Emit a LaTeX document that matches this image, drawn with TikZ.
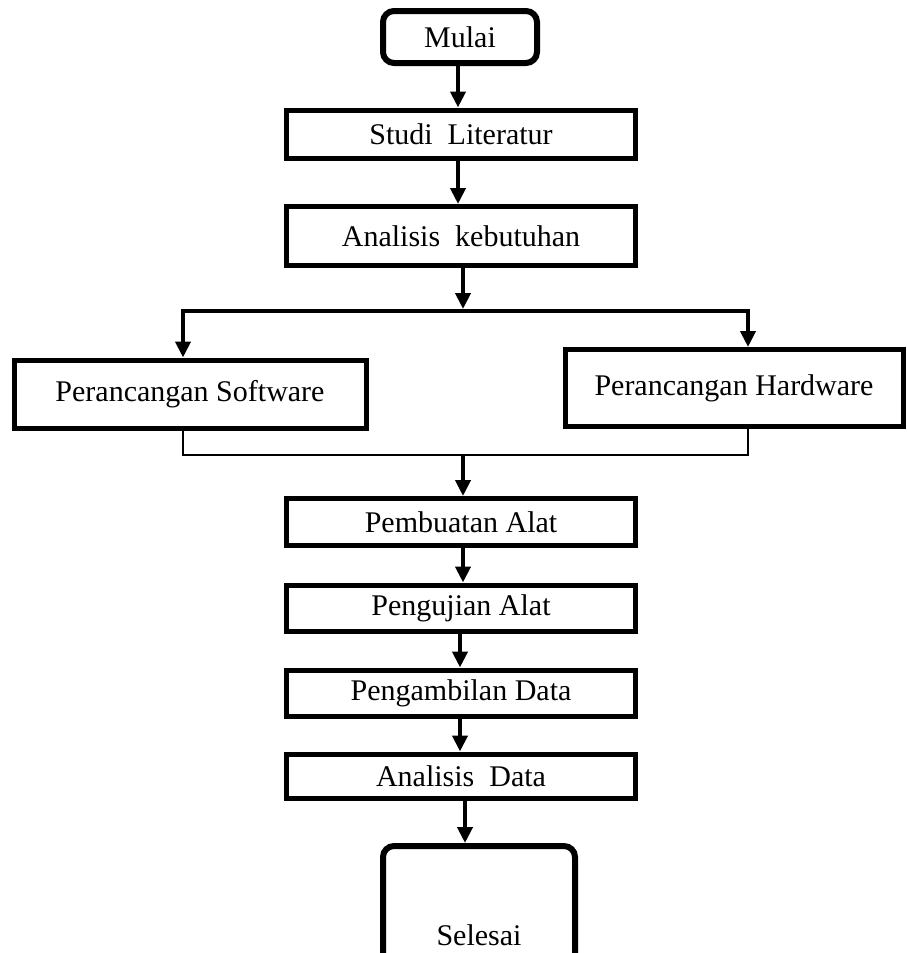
\documentclass[tikz,border=0pt]{standalone}
\usepackage{fontspec}
\setmainfont{Liberation Serif}
\usetikzlibrary{arrows.meta,calc}
\begin{document}
\begin{tikzpicture}[x=1pt,y=-1pt,
  box/.style={draw,line width=5pt,minimum width=349pt,inner sep=0pt,font=\fontsize{30}{33}\selectfont},
  term/.style={draw,line width=6pt,rounded corners=11pt,inner sep=0pt,font=\fontsize{30}{33}\selectfont},
  arr/.style={line width=4pt,-{Triangle[length=16pt,width=15pt]}},
  thin/.style={line width=1.3pt}]
\useasboundingbox (0,0) rectangle (907,953);
\clip (0,0) rectangle (907,953);
\node[term,minimum width=154pt,minimum height=52pt] (mulai) at (460,37) {Mulai};
\node[box,minimum height=48pt] (studi) at (461,134) {Studi\ \ Literatur};
\node[box,minimum height=59pt] (anal) at (461,236) {Analisis\ \ kebutuhan};
\node[box,minimum width=352pt,minimum height=68pt] (soft) at (190,394) {Perancangan Software};
\node[box,minimum width=338pt,minimum height=77pt] (hard) at (734,388) {Perancangan Hardware};
\node[box,minimum height=47pt] (buat) at (461,522) {Pembuatan Alat};
\node[box,minimum height=46pt] (uji) at (461,608) {Pengujian Alat};
\node[box,minimum height=46pt] (ambil) at (461,693) {Pengambilan Data};
\node[box,minimum height=44pt] (adata) at (461,776) {Analisis\ \ Data};
\node[term,anchor=north,minimum width=192pt,text height=99pt,text depth=40pt,inner ysep=0pt] (selesai) at (479,843) {Selesai};
\coordinate (split) at (463,309);
\coordinate (sl) at (183,311);
\coordinate (sr) at (748,311);
\coordinate (ml) at (183,455);
\coordinate (mr) at (748,455);
\coordinate (mm) at (463,455);
\draw[arr] (mulai.south -| 458,0) -- (studi.north -| 458,0);
\draw[arr] (studi.south -| 458,0) -- (anal.north -| 458,0);
\draw[arr] (anal.south -| split) -- (split);
\draw[line width=4pt,line cap=rect] (sl) -- (sr);
\draw[arr] (sl) -- (soft.north -| sl);
\draw[arr] (sr) -- (hard.north -| sr);
\draw[thin] (soft.south -| ml) -- (ml) -- (mr) -- (hard.south -| mr);
\draw[arr] (mm) -- (buat.north -| mm);
\draw[arr] (buat.south -| 463,0) -- (uji.north -| 463,0);
\draw[arr] (uji.south -| 460,0) -- (ambil.north -| 460,0);
\draw[arr] (ambil.south -| 460,0) -- (adata.north -| 460,0);
\draw[arr] (adata.south -| 465,0) -- (selesai.north -| 465,0);
\end{tikzpicture}
\end{document}
